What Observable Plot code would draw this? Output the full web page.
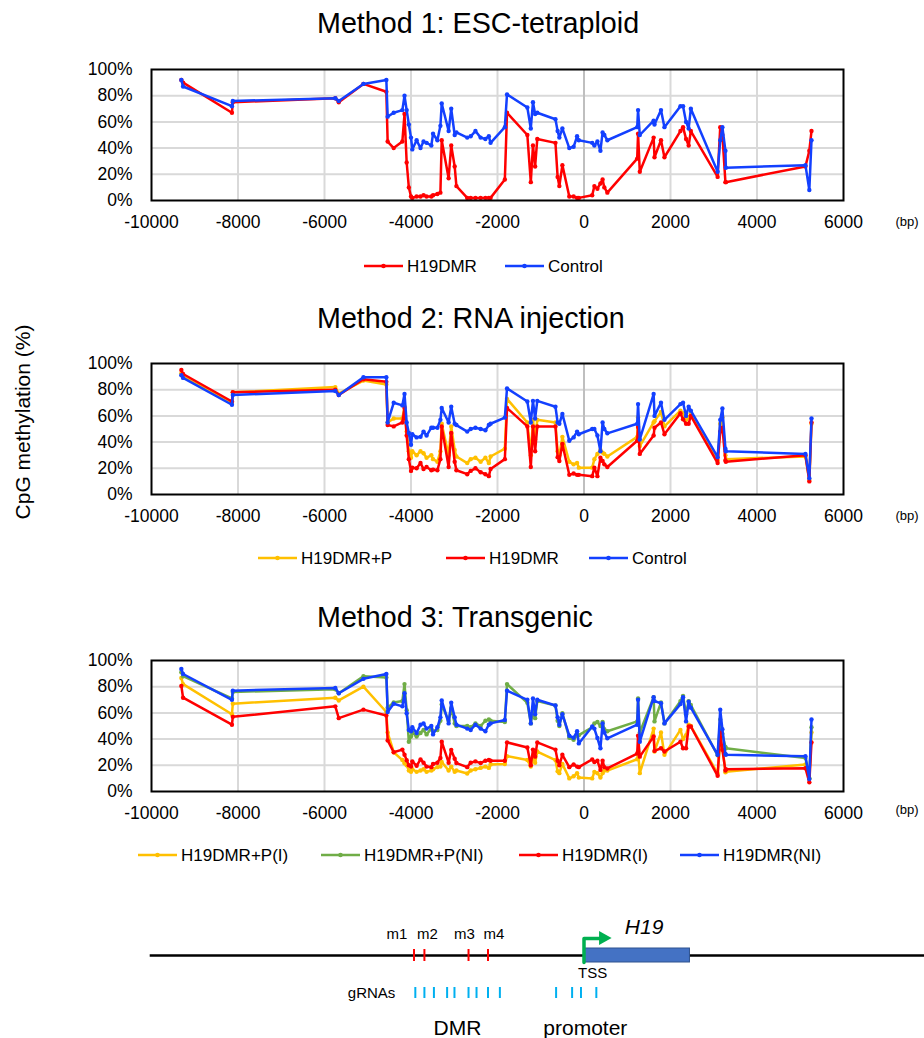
<!DOCTYPE html>
<html><head><meta charset="utf-8">
<script src="https://cdn.jsdelivr.net/npm/d3@7"></script>
<script src="https://cdn.jsdelivr.net/npm/@observablehq/plot@0.6"></script>
<style>
body{margin:0;background:#fff;}
#root{position:relative;width:924px;height:1038px;overflow:hidden;background:#fff;font-family:"Liberation Sans",Arial,sans-serif;}
#root > svg{position:absolute;left:0;}
</style></head><body><div id="root"></div>
<script>
// ---------- DATA ----------
const positions = [-9310,-9270,-8140,-8120,-5750,-5670,-5100,-4570,-4540,-4400,
 -4200,-4150,-4100,-4050,-4000,-3970,-3870,-3780,-3710,-3640,
 -3530,-3490,-3390,-3320,-3290,-3130,-3070,-2990,-2950,-2700,
 -2620,-2510,-2390,-2280,-2200,-2160,-1830,-1780,-1310,-1230,
 -1180,-1130,-1080,-660,-610,-570,-500,-340,-240,-160,
 -120,190,240,310,380,430,470,540,1230,1250,
 1290,1610,1630,1780,1860,2230,2290,2360,2420,2470,
 3090,3150,3200,3270,3280,5120,5210,5260];

const xTicks = [-10000,-8000,-6000,-4000,-2000,0,2000,4000,6000];
const yTicks = [0,20,40,60,80,100];

// Method 1
const m1_H19DMR = [92,90,67,75,78,75,89,83,45,40,
 45,66,29,10,3,2,3,3,4,3,
 3,4,5,6,46,17,42,26,11,2,
 2,2,2,2,2,2,16,67,50,14,
 42,26,47,44,18,11,27,3,3,2,
 2,4,11,9,13,16,10,6,32,51,
 22,48,33,46,33,53,56,47,42,53,
 18,56,50,14,14,26,38,53];
const m1_Control = [92,87,72,76,78,76,89,92,64,67,
 69,80,69,58,48,39,46,40,45,44,
 42,51,46,57,74,53,70,50,52,48,
 49,53,48,47,49,44,56,81,71,55,
 75,66,67,62,53,48,55,40,41,49,
 46,44,42,45,38,52,50,46,56,69,
 50,61,58,69,56,72,72,60,55,70,
 22,46,56,38,25,27,8,46];

// Method 2
const m2_H19DMR_P = [92.5,90,70,78,82,77,87,84,55,58,
 58,67,48,33,28,33,30,33,31.5,28,
 30,27,25,33,54,30,52,34,29,24,
 27,28,25,28,24,29,35,73,55,30,
 57,42,57,55,33,30,44,25,23,24,
 20.5,20.5,27,31,34,32,31,29,44,59,
 37,55,56,63,52,64,62,57,59,62,
 26,54,59,30,27,29,11,54];
const m2_H19DMR = [95,92,71,78,80,76,88,86,53,52,
 55,66,45,27,18,20.5,20,24,19.5,21,
 18.5,19,18.5,27,52,21,47,25,18.5,15.5,
 18,20,17,15.5,14,19.5,27,66,52,21,
 52,33,52,52,28.5,25.6,38.5,15,16,15,
 15,14,20.5,14,28,25.6,23,21,41,51.5,
 31,45,51,55,46,62,57.5,54,54,60,
 24,48,51,26,25,30,10,55];
const m2_Control = [91,89,68.5,76,79,76,89.5,89.5,55,70,
 68,76.7,55,47,38,46,43.6,44,48,45,
 51,51,51,57,66,55,67,54,53,48,
 50,51,50,49,53,54,58.7,81,71,55,
 71.5,58,71.5,67,55,54,61.5,41,43.6,48,
 46,50,50,45,33,55,50,46.7,54,69,
 42,76.7,60,70,57,69,70,60,67,64,
 28.5,57,65.6,35,33,31,12.5,58];

// Method 3
const m3_P_I = [86.6,82,59,67,71.6,69.5,80,60.7,45,30,
 24,21.5,20,16,15,17,15,16,17,15,
 16,17,18.6,19,22.5,16,19,15,16,13.7,
 16,17,18,19,18,20.6,21,27,24,19,
 26.6,22,30.5,24,15.5,14,21,10,11.6,14,
 10.6,10,15,14,10.6,14,16,16,24.6,30.5,
 14,48,30.5,45,28,47,40,43,51,50,
 13.7,37,34,14.7,15,20.6,10,45];
const m3_P_NI = [91,88,71,76,78,75,88,87,64,68,
 69,82,62,38,42,45,42,44.7,47,43.6,
 48,46,47,54,66.4,54,63.6,52,50,50,
 49,52,50,54,55,54,53,82,67.7,52,
 62,56,69,65.6,54,50,59.7,41,39.5,43,
 43,49,52,53,50,53,47.5,46,53.5,71,
 45,72,53.5,68,52,69,73,59,69,66,
 27.6,55,44,34,33,25.6,10,49];
const m3_I = [80.6,71.6,51,57,65,56,62.5,58,39,30,
 32,28,23.8,20,19,23,19.6,24.5,22,19,
 18.6,21,22,25.6,38,22,31.8,25,21.7,18.6,
 22,23,21.7,23.5,24,23.5,23.5,37.5,33.6,20,
 32,26.6,37.5,32,23.5,20,28,18.6,20.6,19,
 18.6,24.5,22.5,23.5,16.5,23.5,18.6,17.6,29,42.6,
 26.6,42,31,33,30.5,38,33,33,49.6,49.6,
 12,45,31.8,16,17,17.8,7,37.5];
const m3_NI = [93.5,89.7,70,77,79,75,86,89.7,60.7,67,
 65,75,59.7,47,46,49,44.7,51,52,48,
 50,43.6,49,56.6,69.5,52,67.7,56.6,51,48,
 47,51,48,46,51,52,54.6,77,70,52,
 71,59,70,65.6,56.6,51,59,42.6,41,46,
 36.7,49.6,48,40.8,33,52,45,40.6,51,70,
 38,72,69,67.4,52,66.7,72,53.5,68.5,64,
 28,62.5,47.5,28.6,28,27,9.5,55];

// Gene map (bp)
const dmrSites = [{label:"m1",pos:-3930},{label:"m2",pos:-3690},{label:"m3",pos:-2670},{label:"m4",pos:-2220}];
const gRNAs = [-3900,-3690,-3470,-3165,-2995,-2670,-2485,-2220,-1945,-645,-275,-70,285];
const gene = {name:"H19", start:0, end:2450};
const regions = [{label:"DMR",pos:-2925},{label:"promoter",pos:30}];

const titles = ["Method 1: ESC-tetraploid","Method 2: RNA injection","Method 3: Transgenic"];

// ---------- STYLE / LAYOUT ----------
const COL = {red:"#ff0000", blue:"#1340ff", yellow:"#ffc000", green:"#70ad47"};
const FONT = "'Liberation Sans', Arial, sans-serif";
const root = document.getElementById("root");

const panels = [
  {top:50, title:titles[0], titleY:33, legendY:266, unitY:226,
   series:[{name:"H19DMR",values:m1_H19DMR,color:COL.red},{name:"Control",values:m1_Control,color:COL.blue}],
   legendX:[364,505]},
  {top:344, title:titles[1], titleY:328, legendY:558, unitY:520,
   series:[{name:"H19DMR+P",values:m2_H19DMR_P,color:COL.yellow},{name:"H19DMR",values:m2_H19DMR,color:COL.red},{name:"Control",values:m2_Control,color:COL.blue}],
   legendX:[258,446,589]},
  {top:641, title:titles[2], titleY:627, legendY:855, unitY:814,
   series:[{name:"H19DMR+P(I)",values:m3_P_I,color:COL.yellow},{name:"H19DMR+P(NI)",values:m3_P_NI,color:COL.green},{name:"H19DMR(I)",values:m3_I,color:COL.red},{name:"H19DMR(NI)",values:m3_NI,color:COL.blue}],
   legendX:[138,321,519,680]}
];

panels.forEach(p => {
  const marks = [
    Plot.ruleX(xTicks.slice(1,-1).filter(d=>d!==0), {stroke:"#d9d9d9", strokeWidth:2}),
    Plot.ruleY(yTicks.slice(1,-1), {stroke:"#d9d9d9", strokeWidth:2}),
    Plot.ruleX([0], {stroke:"#bfbfbf", strokeWidth:2})
  ];
  p.series.forEach(s => {
    const rows = positions.map((pos,i)=>({pos, value:s.values[i]}));
    marks.push(Plot.line(rows, {x:"pos", y:"value", stroke:s.color, strokeWidth:2.5}));
    marks.push(Plot.dot(rows, {x:"pos", y:"value", fill:s.color, r:2.2}));
  });
  marks.push(Plot.frame({stroke:"#000", strokeWidth:2}));
  const chart = Plot.plot({
    width:924, height:190, marginLeft:151, marginRight:81, marginTop:19, marginBottom:40,
    style:{fontSize:"17.5px", fontFamily:FONT, background:"transparent", color:"#000", overflow:"visible"},
    x:{domain:[-10000,6000], ticks:xTicks, tickFormat:d=>String(d), tickSize:0, tickPadding:15, label:null},
    y:{domain:[0,100], ticks:yTicks, tickFormat:d=>d+"%", tickSize:0, tickPadding:19, label:null},
    marks
  });
  chart.style.top = p.top + "px";
  root.appendChild(chart);
});

// Gene diagram
const diag = Plot.plot({
  width:924, height:143, marginLeft:151, marginRight:81, marginTop:0, marginBottom:0,
  style:{fontSize:"15px", fontFamily:FONT, background:"transparent", color:"#000", overflow:"visible"},
  x:{domain:[-10000,6000], axis:null},
  y:{domain:[0,143], range:[0,143], axis:null},
  marks:[
    Plot.ruleY([{y:60,x1:-10030,x2:8200}], {y:"y", x1:"x1", x2:"x2", stroke:"#000", strokeWidth:2.5}),
    Plot.ruleX(dmrSites, {x:"pos", y1:()=>54, y2:()=>66, stroke:"#ff0000", strokeWidth:2}),
    Plot.text(dmrSites, {x:(d,i)=>d.pos + [-17,3,-4,6][i]/0.04325, y:()=>39, text:"label", fontSize:15}),
    Plot.rect([gene], {x1:"start", x2:"end", y1:()=>53, y2:()=>67, fill:"#4472c4", stroke:"#2f528f", strokeWidth:1}),
    Plot.line([{x:gene.start,y:67},{x:gene.start,y:43},{x:gene.start+380,y:43}], {x:"x", y:"y", stroke:"#00b050", strokeWidth:3.5}),
    Plot.areaY([{x:gene.start+360,y1:36,y2:50},{x:gene.start+650,y1:43,y2:43}], {x:"x", y1:"y1", y2:"y2", fill:"#00b050"}),
    Plot.text([gene], {x:d=>d.start+1390, y:()=>32, text:"name", fontSize:21, fontStyle:"italic"}),
    Plot.text(["TSS"], {x:()=>gene.start+200, y:()=>78, text:d=>d, fontSize:15}),
    Plot.ruleX(gRNAs, {x:d=>d, y1:()=>92, y2:()=>103, stroke:"#00b0f0", strokeWidth:2}),
    Plot.text(["gRNAs"], {x:()=>gRNAs[0], y:()=>98, text:d=>d, textAnchor:"end", dx:-20, fontSize:15}),
    Plot.text(regions, {x:"pos", y:()=>133, text:"label", fontSize:21})
  ]
});
diag.style.top = "895px";
root.appendChild(diag);

// Overlay text: titles, legends, axis title, units
const ov = d3.select(root).append("svg")
  .attr("width",924).attr("height",1038)
  .style("position","absolute").style("left","0").style("top","0")
  .style("font-family",FONT).style("pointer-events","none");

panels.forEach(p => {
  ov.append("text").attr("x",317).attr("y",p.titleY).attr("font-size",28.7).text(p.title);
  ov.append("text").attr("x",907).attr("y",p.unitY).attr("font-size",13).attr("text-anchor","middle").text("(bp)");
  p.series.forEach((s,i) => {
    const x0 = p.legendX[i];
    ov.append("line").attr("x1",x0).attr("x2",x0+39).attr("y1",p.legendY).attr("y2",p.legendY)
      .attr("stroke",s.color).attr("stroke-width",2.5);
    ov.append("circle").attr("cx",x0+19.5).attr("cy",p.legendY).attr("r",2.3).attr("fill",s.color);
    ov.append("text").attr("x",x0+43).attr("y",p.legendY+6).attr("font-size",17).text(s.name);
  });
});
ov.append("text").attr("transform","translate(30,422) rotate(-90)").attr("text-anchor","middle")
  .attr("font-size",21).text("CpG methylation (%)");
</script></body></html>
